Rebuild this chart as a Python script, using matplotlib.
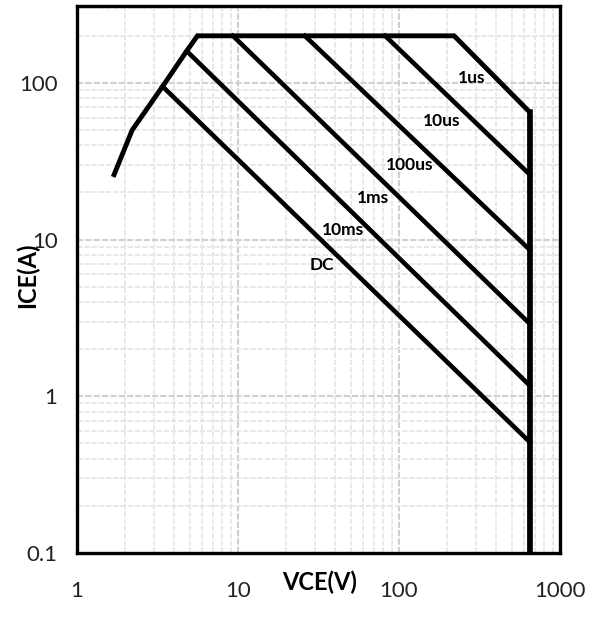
import matplotlib
matplotlib.use("Agg")
import matplotlib.pyplot as plt

# safe operating area boundary: rising edge, current limit, 1us edge, voltage limit
outline_v = [1.7, 2.2, 3.4, 4.8, 5.6, 220, 650, 650]
outline_i = [26, 50, 95, 160, 200, 200, 65, 0.1]

# pulse-width limit lines (start point on boundary -> end at 650 V)
pulse_names = ["10us", "100us", "1ms", "10ms", "DC"]
pulse_v_start = [82, 26, 9.3, 4.8, 3.4]
pulse_i_start = [200, 200, 200, 160, 95]
pulse_v_end = [650, 650, 650, 650, 650]
pulse_i_end = [26, 8.6, 2.9, 1.17, 0.51]

# text labels for each curve
label_names = ["1us", "10us", "100us", "1ms", "10ms", "DC"]
label_v = [284, 185, 117, 69, 45, 33]
label_i = [108, 57, 30, 18.4, 11.5, 6.9]

x_ticks = [1, 10, 100, 1000]
y_ticks = [0.1, 1, 10, 100]

plt.rcParams["font.family"] = ["Lato", "DejaVu Sans"]

fig = plt.figure(figsize=(5.89, 6.18), dpi=100)
ax = fig.add_axes([77 / 589, 1 - 553 / 618, 483 / 589, 547 / 618])
ax.set_xscale("log")
ax.set_yscale("log")
ax.set_xlim(1, 1000)
ax.set_ylim(0.1, 310)

ax.grid(True, which="minor", color="#e6e6e6", lw=1.3, ls=(0, (3, 1)))
ax.grid(True, which="major", color="#d0d0d0", lw=1.5, ls=(0, (3, 1)))
ax.set_axisbelow(True)

ax.plot(outline_v, outline_i, color="black", lw=3.5, solid_joinstyle="miter")
ax.plot([650, 650], [65, 0.1], color="black", lw=4.0)
for vs, is_, ve, ie in zip(pulse_v_start, pulse_i_start, pulse_v_end, pulse_i_end):
    ax.plot([vs, ve], [is_, ie], color="black", lw=3.3)

for name, v, i in zip(label_names, label_v, label_i):
    ax.text(v, i, name, fontsize=12.5, fontweight="bold", ha="center", va="center")

ax.set_xticks(x_ticks)
ax.set_xticklabels(["1", "10", "100", "1000"])
ax.set_yticks(y_ticks)
ax.set_yticklabels(["0.1", "1", "10", "100"])
ax.minorticks_on()
ax.tick_params(which="both", length=0)
ax.tick_params(axis="x", pad=20, labelsize=16, colors="#222222")
ax.tick_params(axis="y", pad=14, labelsize=16, colors="#222222")
for s in ax.spines.values():
    s.set_linewidth(2.4)

fig.text(320 / 589, 1 - 582 / 618, "VCE(V)", fontsize=17, fontweight="bold",
         ha="center", va="center")
fig.text(27 / 589, 1 - 275 / 618, "ICE(A)", fontsize=17, fontweight="bold",
         ha="center", va="center", rotation=90)

fig.savefig("out.png", dpi=100)
